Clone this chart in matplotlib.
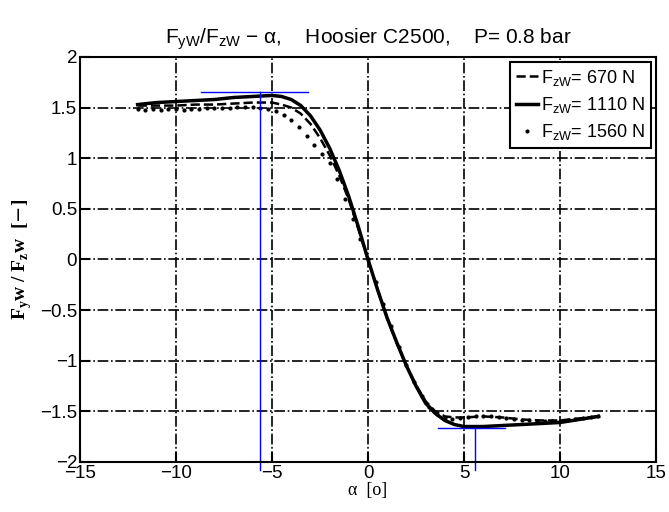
import matplotlib
matplotlib.use('Agg')
import matplotlib.pyplot as plt

plt.rcParams['font.family'] = ['Liberation Sans', 'DejaVu Sans']

# Fz = 670 N (dashed)
alpha_670 = [-12, -11, -10, -9, -8, -7, -6, -5, -4.5, -4, -3.5, -3, -2.5, -2, -1.5, -1, -0.5,
             0, 0.5, 1, 1.5, 2, 2.5, 3, 3.5, 4, 4.5, 5, 6, 7, 8, 9, 10, 11, 12]
fy_670 = [1.52, 1.52, 1.52, 1.53, 1.53, 1.54, 1.55, 1.55, 1.53, 1.50, 1.44, 1.34, 1.20, 1.03, 0.83, 0.59, 0.30,
          0.00, -0.30, -0.58, -0.83, -1.05, -1.24, -1.40, -1.50, -1.55, -1.56, -1.56, -1.55, -1.56, -1.58, -1.59, -1.59, -1.57, -1.55]

# Fz = 1110 N (solid)
alpha_1110 = [-12, -11, -10, -9, -8, -7, -6, -5, -4.5, -4, -3.5, -3, -2.5, -2, -1.5, -1, -0.5,
              0, 0.5, 1, 1.5, 2, 2.5, 3, 3.5, 4, 4.5, 5, 6, 7, 8, 9, 10, 11, 12]
fy_1110 = [1.53, 1.55, 1.56, 1.57, 1.58, 1.60, 1.61, 1.62, 1.61, 1.58, 1.52, 1.42, 1.28, 1.10, 0.88, 0.62, 0.32,
           0.00, -0.30, -0.58, -0.82, -1.05, -1.25, -1.42, -1.52, -1.59, -1.63, -1.65, -1.65, -1.64, -1.63, -1.62, -1.61, -1.58, -1.55]

# Fz = 1560 N (dots)
alpha_1560 = [-12.0, -11.6, -11.2, -10.8, -10.4, -10.0, -9.6, -9.2, -8.8, -8.4, -8.0, -7.6, -7.2, -6.8,
              -6.4, -6.0, -5.6, -5.2, -4.8, -4.4, -4.0, -3.6, -3.2, -2.8, -2.4, -2.0, -1.6, -1.2, -0.8,
              -0.4, 0.0, 0.4, 0.8, 1.2, 1.6, 2.0, 2.4, 2.8, 3.2, 3.6, 4.0, 4.4, 4.8, 5.2, 5.6, 6.0, 6.4,
              6.8, 7.2, 7.6, 8.0, 8.4, 8.8, 9.2, 9.6, 10.0, 10.4, 10.8, 11.2, 11.6, 12.0]
fy_1560 = [1.49, 1.48, 1.49, 1.48, 1.49, 1.49, 1.48, 1.49, 1.49, 1.50, 1.50, 1.50, 1.50, 1.51,
           1.51, 1.51, 1.50, 1.49, 1.47, 1.43, 1.38, 1.31, 1.22, 1.13, 1.04, 0.95, 0.79, 0.60, 0.40,
           0.20, 0.00, -0.22, -0.44, -0.66, -0.86, -1.04, -1.21, -1.35, -1.46, -1.53, -1.57, -1.58, -1.57,
           -1.56, -1.55, -1.55, -1.55, -1.56, -1.57, -1.58, -1.59, -1.59, -1.60, -1.60, -1.60, -1.60,
           -1.59, -1.58, -1.57, -1.56, -1.55]

# blue marker lines (peak values)
peak_pos = (-5.6, 1.65)
peak_neg = (5.55, -1.66)

fig = plt.figure(figsize=(6.69, 5.12), dpi=100)
ax = fig.add_axes([0.1196, 0.0977, 0.861, 0.791])

ax.plot(alpha_670, fy_670, color='black', ls='--', lw=1.8, label=r'F$_\mathregular{zW}$= 670 N')
ax.plot(alpha_1110, fy_1110, color='black', ls='-', lw=2.5, label=r'F$_\mathregular{zW}$= 1110 N')
ax.plot(alpha_1560, fy_1560, color='black', ls='none', marker='.', ms=4, label=r'F$_\mathregular{zW}$= 1560 N')

# blue lines
ax.plot([peak_pos[0] - 3.1, peak_pos[0] + 2.5], [peak_pos[1], peak_pos[1]], color='blue', lw=1)
ax.plot([peak_pos[0], peak_pos[0]], [peak_pos[1], -2.08], color='blue', lw=1, clip_on=False)
ax.plot([peak_neg[0] - 1.9, peak_neg[0] + 1.6], [peak_neg[1], peak_neg[1]], color='blue', lw=1)
ax.plot([peak_neg[0], peak_neg[0]], [peak_neg[1], -2.08], color='blue', lw=1, clip_on=False)

ax.set_xlim(-15, 15)
ax.set_ylim(-2, 2)
ax.set_xticks([-15, -10, -5, 0, 5, 10, 15])
ax.set_yticks([-2, -1.5, -1, -0.5, 0, 0.5, 1, 1.5, 2])
ax.set_yticklabels(['\u22122', '\u22121.5', '\u22121', '\u22120.5', '0', '0.5', '1', '1.5', '2'])
ax.set_xticklabels(['\u221215', '\u221210', '\u22125', '0', '5', '10', '15'])
ax.tick_params(direction='in', length=7, width=1.5, labelsize=13.5, pad=2)
ax.grid(True, color='black', ls='-.', lw=1.2)
for s in ax.spines.values():
    s.set_linewidth(1.5)

ax.set_title(r'F$_\mathregular{yW}$/F$_\mathregular{zW}$ \u2212 \u03b1,    Hoosier C2500,    P= 0.8 bar'
             .replace('\\u2212', '\u2212').replace('\\u03b1', '\u03b1'),
             fontsize=15, pad=10)
ax.set_xlabel('\u03b1  [o]', fontsize=13, family='Liberation Serif', labelpad=0)
ax.set_ylabel(r'F$_\mathregular{y}$w / F$_\mathregular{z}$w  [$-$]', fontsize=14,
              family='Liberation Serif', fontweight='bold', labelpad=4)

leg = ax.legend(loc='upper right', fontsize=13, handlelength=1.2, handletextpad=0.2,
                borderpad=0.3, labelspacing=0.4, fancybox=False, framealpha=1,
                borderaxespad=0.3)
leg.get_frame().set_edgecolor('black')
leg.get_frame().set_linewidth(1.5)

fig.savefig('out.png', dpi=100)
